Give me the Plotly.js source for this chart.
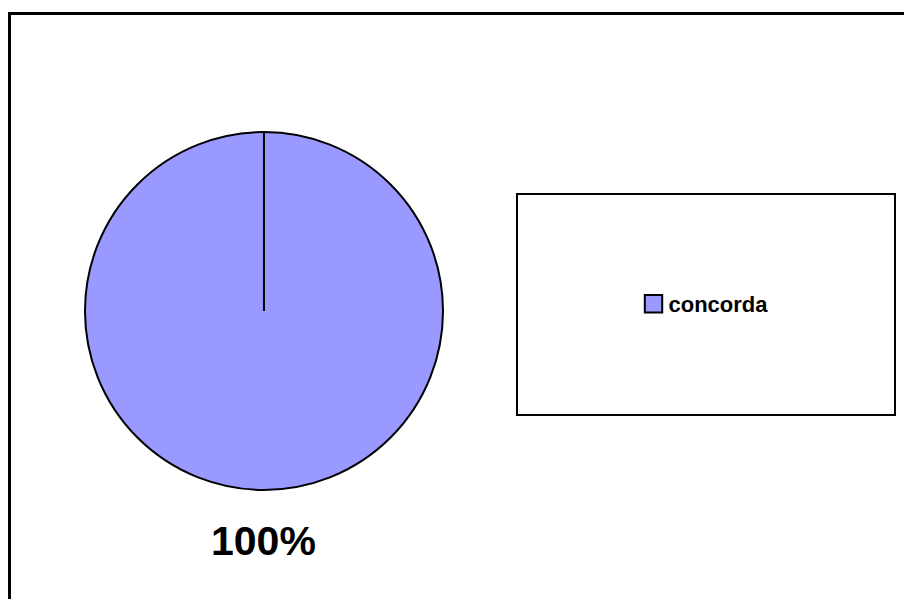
<!DOCTYPE html>
<html>
<head>
<meta charset="utf-8">
<script src="https://cdn.plot.ly/plotly-3.0.1.min.js"></script>
<style>html,body{margin:0;padding:0;background:#fff;}#chart{width:904px;height:599px;}</style>
</head>
<body>
<div id="chart"></div>
<script>
const labels = ["concorda"];
const values = [100];
const colors = ["#9999FF"];

const W = 904, H = 599;
const dom = {x: [0.0940, 0.4900], y: [0.1820, 0.7796]};
const total = values.reduce((a, b) => a + b, 0);
const pctText = Math.round(100 * values[0] / total) + "%";

// pie geometry from domain (for the radial border line)
const cx = (dom.x[0] + dom.x[1]) / 2;
const cy = (dom.y[0] + dom.y[1]) / 2;
const rPx = Math.min(W * (dom.x[1] - dom.x[0]), H * (dom.y[1] - dom.y[0])) / 2;

const font = "'Liberation Sans', Arial, sans-serif";

const data = [{
  type: "pie",
  labels: labels,
  values: values,
  sort: false,
  direction: "clockwise",
  rotation: 0,
  marker: {colors: colors, line: {color: "#000", width: 2}},
  textinfo: "none",
  hoverinfo: "none",
  domain: dom,
  showlegend: true
}];

const layout = {
  width: W, height: H,
  margin: {l: 0, r: 0, t: 0, b: 0},
  paper_bgcolor: "#fff",
  showlegend: true,
  legend: {
    x: 706 / W, y: 1 - 304 / H, xanchor: "center", yanchor: "middle",
    font: {family: font, size: 22, color: "#000", weight: "bold"},
    bgcolor: "rgba(0,0,0,0)", borderwidth: 0
  },
  shapes: [
    {type: "rect", xref: "paper", yref: "paper", x0: 9.5 / W, x1: 1.02, y0: -0.02, y1: 1 - 13.5 / H,
     line: {color: "#000", width: 3}, fillcolor: "rgba(0,0,0,0)", layer: "above"},
    {type: "rect", xref: "paper", yref: "paper", x0: 517 / W, x1: 895 / W, y0: 1 - 415 / H, y1: 1 - 194 / H,
     line: {color: "#000", width: 2}, fillcolor: "rgba(0,0,0,0)", layer: "above"},
    {type: "line", xref: "paper", yref: "paper", x0: cx, x1: cx, y0: cy, y1: cy + rPx / H,
     line: {color: "#000", width: 2}, layer: "above"}
  ],
  annotations: [{
    xref: "paper", yref: "paper", x: cx, y: 1 - 541 / H, xanchor: "center", yanchor: "middle",
    text: "<b>" + pctText + "</b>", showarrow: false,
    font: {family: font, size: 41, color: "#000"}
  }]
};

Plotly.newPlot("chart", data, layout, {staticPlot: true}).then(function (gd) {
  // enlarge legend swatch and tighten the gap to the label, as in the reference
  gd.querySelectorAll(".legend .legendpoints path").forEach(function (p) {
    const prev = p.getAttribute("transform") || "";
    p.setAttribute("transform", prev + " scale(1.45)");
    p.style.strokeWidth = "1.4px";
  });
  gd.querySelectorAll(".legend .legendtext").forEach(function (t) {
    const x = parseFloat(t.getAttribute("x")) || 0;
    t.setAttribute("x", x - 5);
  });
});
</script>
</body>
</html>
